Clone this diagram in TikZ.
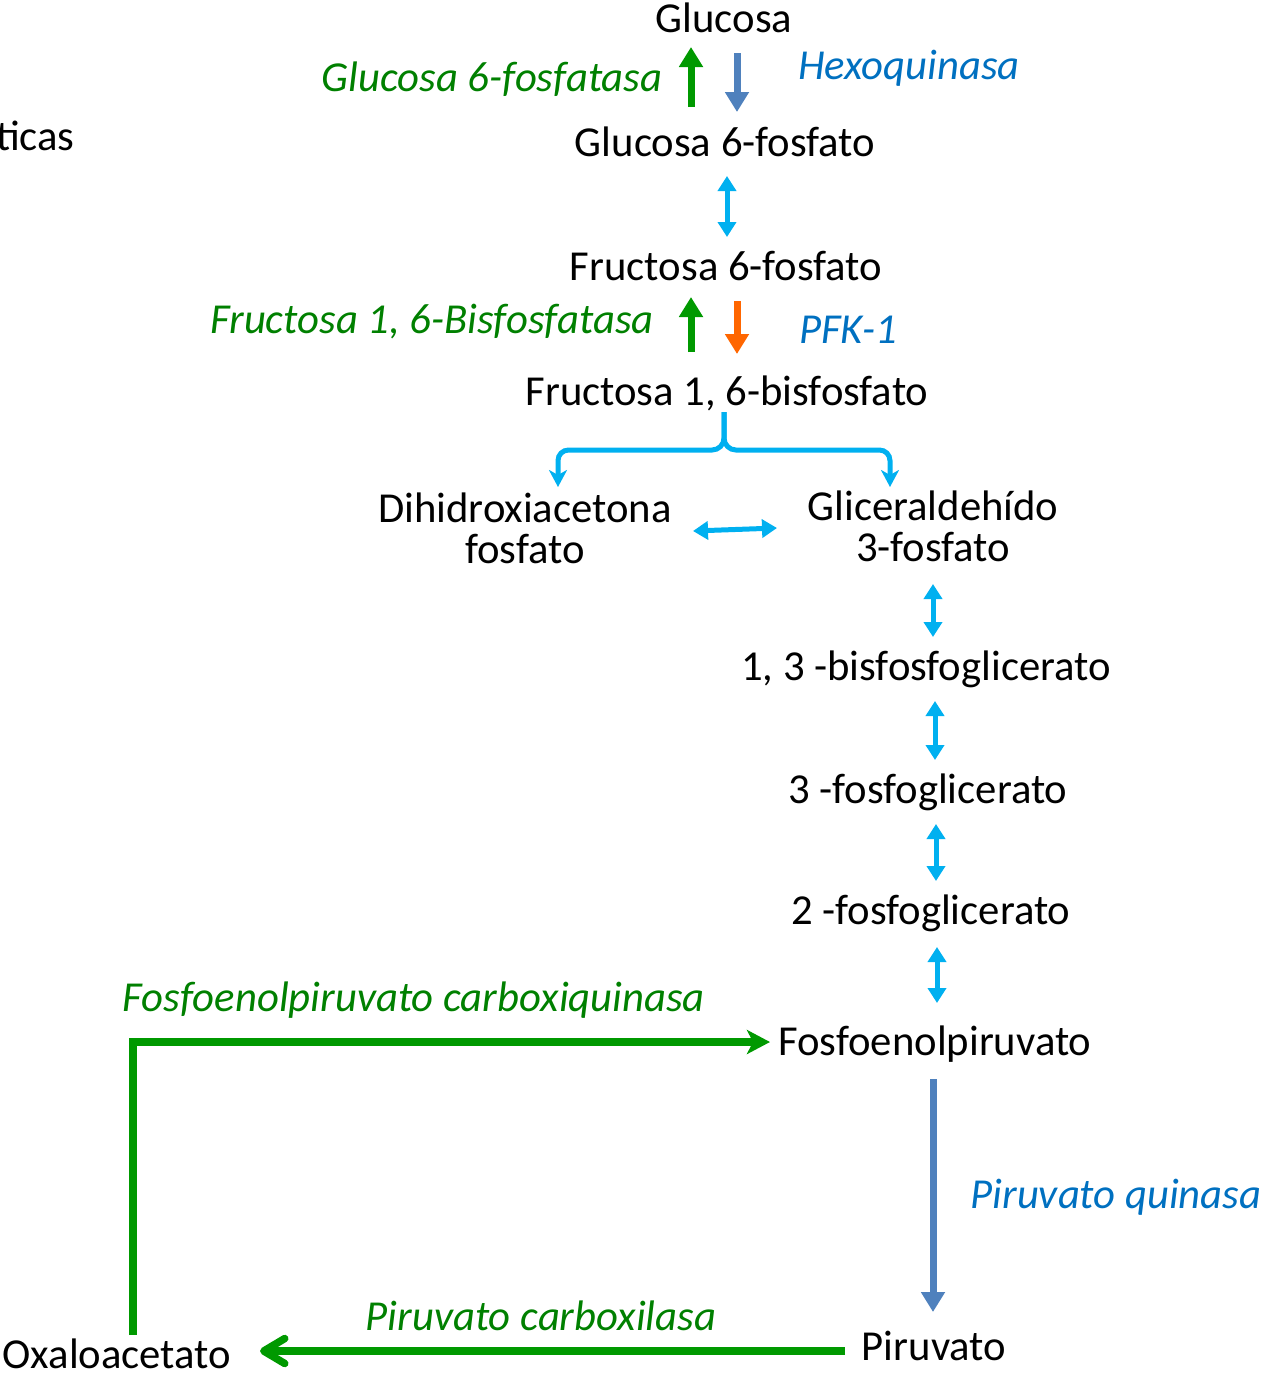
\documentclass[tikz,border=0pt]{standalone}
\usepackage{fontspec}
\setmainfont{Carlito}
\usetikzlibrary{arrows.meta,calc}
\definecolor{verdetexto}{RGB}{0,128,0}
\definecolor{verdeflecha}{RGB}{0,153,0}
\definecolor{azultexto}{RGB}{0,112,192}
\definecolor{azulflecha}{RGB}{79,129,189}
\definecolor{celeste}{RGB}{0,176,240}
\definecolor{naranja}{RGB}{255,102,0}

\begin{document}
\begin{tikzpicture}[x=0.02cm,y=-0.02cm,
		texto/.style={inner sep=0pt,anchor=base,font=\fontsize{24.3}{23.5}\selectfont},
		enzverde/.style={texto,font=\fontsize{24.3}{23.5}\selectfont\itshape,text=verdetexto},
		enzazul/.style={texto,font=\fontsize{24.3}{23.5}\selectfont\itshape,text=azultexto},
		gruesa/.style={line width=0.14cm,-{Triangle[width=0.46cm,length=0.4cm]}},
		doble/.style={celeste,line width=0.1cm,{Triangle[width=0.36cm,length=0.3cm]}-{Triangle[width=0.36cm,length=0.3cm]}},
		llave/.style={celeste,line width=0.1cm,-{Stealth[width=0.36cm,length=0.34cm,inset=0.1cm]}},
		via/.style={verdeflecha,line width=0.15cm}]
	\useasboundingbox (0,0) rectangle (1261,1374);
	
	% Texto cortado a la izquierda
	\node[texto,anchor=base east] (titulo) at (75,150) {ticas};
	
	% Metabolitos
	\node[texto] (glc) at (724,32) {Glucosa};
	\node[texto] (g6p) at (725,156) {Glucosa 6-fosfato};
	\node[texto] (f6p) at (726,280) {Fructosa 6-fosfato};
	\node[texto] (f16) at (727,405) {Fructosa 1, 6-bisfosfato};
	\node[texto,anchor=center,align=center] (dhap) at (525,528) {Dihidroxiacetona\\fosfato};
	\node[texto,anchor=center,align=center] (gap) at (933,526) {Gliceraldehído\\3-fosfato};
	\node[texto] (bpg) at (926,680) {1, 3 -bisfosfoglicerato};
	\node[texto] (pg3) at (928,803) {3 -fosfoglicerato};
	\node[texto] (pg2) at (931,924) {2 -fosfoglicerato};
	\node[texto] (pep) at (935,1055) {Fosfoenolpiruvato};
	\node[texto] (pyr) at (934,1360) {Piruvato};
	\node[texto] (oaa) at (117,1368) {Oxaloacetato};
	
	% Enzimas
	\node[enzverde] (g6pasa) at (492,91) {Glucosa 6-fosfatasa};
	\node[enzazul] (hk) at (909,79) {Hexoquinasa};
	\node[enzverde] (fbpasa) at (432,333) {Fructosa 1, 6-Bisfosfatasa};
	\node[enzazul] (pfk) at (848,343) {PFK-1};
	\node[enzverde] (pepck) at (414,1011) {Fosfoenolpiruvato carboxiquinasa};
	\node[enzazul] (pk) at (1116,1208) {Piruvato quinasa};
	\node[enzverde] (pc) at (541,1330) {Piruvato carboxilasa};
	
	% Flechas de los pasos irreversibles
	\draw[gruesa,verdeflecha] ($(g6p.base)+(-34,-49)$) -- ($(glc.base)+(-33,15)$);
	\draw[gruesa,azulflecha] ($(glc.base)+(13,21)$) -- ($(g6p.base)+(12,-44)$);
	\draw[gruesa,verdeflecha] ($(f16.base)+(-36,-53)$) -- ($(f6p.base)+(-35,17)$);
	\draw[gruesa,naranja] ($(f6p.base)+(11,21)$) -- ($(f16.base)+(10,-51)$);
	\draw[gruesa,azulflecha] ($(pep.base)+(-2,24)$) -- ($(pyr.base)+(-1,-48)$);
	
	% Flechas reversibles
	\draw[doble] ($(g6p.base)+(2,20)$) -- ($(f6p.base)+(1,-43)$);
	\draw[doble] ($(dhap)+(168,3)$) -- ($(gap)+(-156,2)$);
	\draw[doble] ($(gap)+(0,58)$) -- ($(bpg.base)+(7,-43)$);
	\draw[doble] ($(bpg.base)+(9,21)$) -- ($(pg3.base)+(7,-43)$);
	\draw[doble] ($(pg3.base)+(8,21)$) -- ($(pg2.base)+(5,-43)$);
	\draw[doble] ($(pg2.base)+(6,23)$) -- ($(pep.base)+(2,-52)$);
	
	% Llave de la aldolasa
	\coordinate (rama) at ($(f16.base)+(-3,7)$);
	\draw[llave] (rama) -- ++(0,26) to[out=270,in=0] ++(-12,12)
		[rounded corners=6pt] -- ($(dhap)+(33,-78)$) -- ($(dhap)+(33,-41)$);
	\draw[llave] (rama) -- ++(0,26) to[out=270,in=180] ++(12,12)
		[rounded corners=6pt] -- ($(gap)+(-43,-76)$) -- ($(gap)+(-43,-39)$);
	
	% Rodeo por el oxaloacetato
	\draw[via,-{Straight Barb[width=0.5cm,length=0.42cm,round]}] ($(pyr.base)+(-89,-9)$) -- ($(oaa.base)+(143,-17)$);
	\draw[via,-{Stealth[width=0.48cm,length=0.46cm,inset=0.12cm]}] ($(oaa.base)+(16,-33)$) |- ($(pep.base)+(-165,-13)$);
\end{tikzpicture}
\end{document}
